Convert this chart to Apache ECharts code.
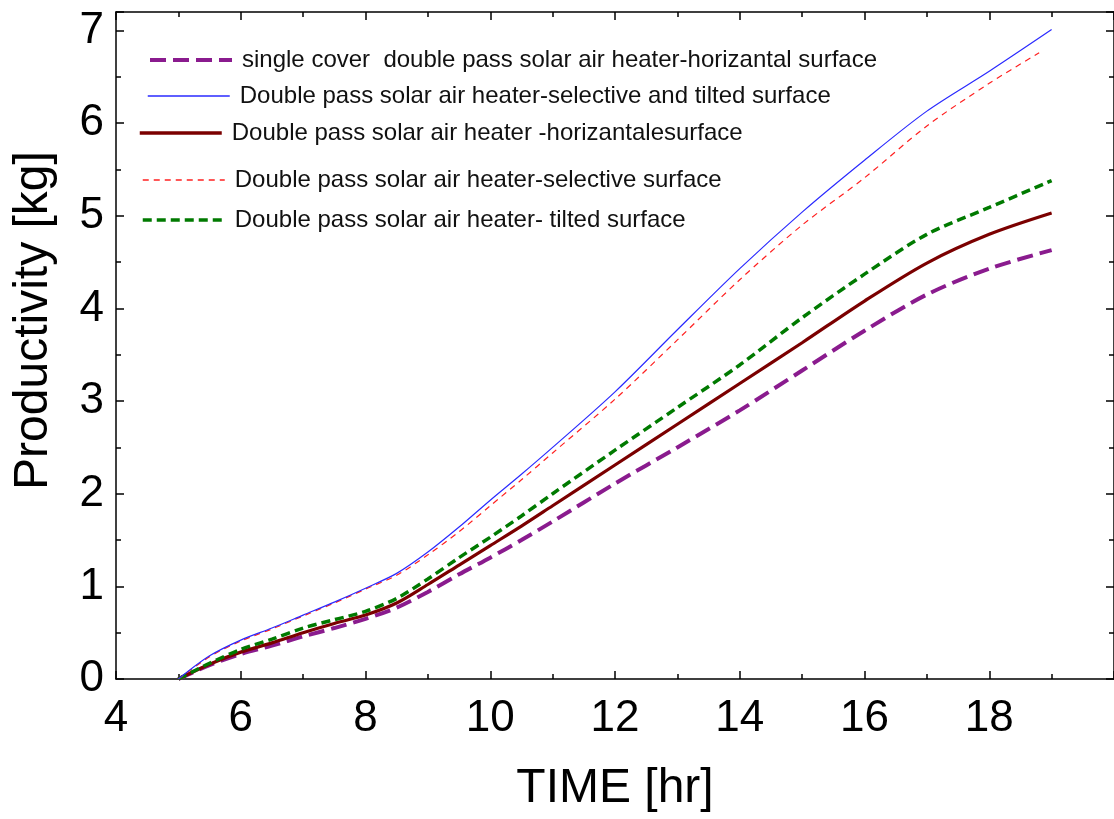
<!DOCTYPE html>
<html>
<head>
<meta charset="utf-8">
<script src="https://cdn.jsdelivr.net/npm/echarts@6/dist/echarts.min.js"></script>
<style>html,body{margin:0;padding:0;background:#fff}#c{width:1114px;height:819px}</style>
</head>
<body>
<div id="c"></div>
<script>
const times = [5, 5.5, 6, 6.5, 7, 7.5, 8, 8.5, 9, 9.5, 10, 10.5, 11, 12, 13, 14, 15, 16, 17, 18, 19];
const timesSelective = [5, 5.5, 6, 6.5, 7, 7.5, 8, 8.5, 9, 9.5, 10, 10.5, 11, 12, 13, 14, 15, 16, 17, 18, 18.8];
const singleCoverHoriz = [0, 0.15, 0.27, 0.36, 0.46, 0.55, 0.65, 0.77, 0.94, 1.13, 1.31, 1.5, 1.7, 2.11, 2.5, 2.9, 3.33, 3.76, 4.15, 4.43, 4.63];
const selectiveTilted = [0, 0.25, 0.42, 0.55, 0.69, 0.83, 0.98, 1.14, 1.37, 1.64, 1.93, 2.21, 2.5, 3.1, 3.77, 4.43, 5.04, 5.6, 6.13, 6.56, 7.01];
const horizontal = [0, 0.16, 0.29, 0.39, 0.5, 0.6, 0.69, 0.82, 1.02, 1.23, 1.44, 1.65, 1.87, 2.31, 2.75, 3.19, 3.63, 4.08, 4.49, 4.8, 5.03];
const selective = [0, 0.24, 0.41, 0.54, 0.68, 0.82, 0.97, 1.12, 1.34, 1.59, 1.87, 2.15, 2.44, 3.02, 3.66, 4.31, 4.9, 5.41, 5.97, 6.43, 6.76];
const tilted = [0, 0.17, 0.32, 0.43, 0.55, 0.64, 0.73, 0.87, 1.08, 1.31, 1.53, 1.76, 2.0, 2.47, 2.93, 3.39, 3.9, 4.37, 4.8, 5.09, 5.38];

const names = [
  'single cover  double pass solar air heater-horizantal surface',
  'Double pass solar air heater-selective and tilted surface',
  'Double pass solar air heater -horizantalesurface',
  'Double pass solar air heater-selective surface',
  'Double pass solar air heater- tilted surface'
];

function pairs(xs, ys) { return xs.map((x, i) => [x, ys[i]]); }

const FONT = '"Liberation Sans", Arial, sans-serif';
const chart = echarts.init(document.getElementById('c'), null, {renderer: 'canvas'});

function leg(name, left, top, lw) {
  return {
    data: [name], left: left, top: top, orient: 'horizontal',
    itemWidth: 82, itemHeight: 24, padding: 0,
    selectedMode: false,
    itemStyle: {opacity: 0},
    lineStyle: {width: lw},
    textStyle: {fontFamily: FONT, fontSize: 24, color: '#111', padding: [0, 0, 0, 5], lineHeight: 24}
  };
}

const axisLine = {show: true, onZero: false, lineStyle: {color: '#000', width: 1.5}};
const tick = {show: true, inside: true, length: 8, lineStyle: {color: '#000', width: 1.5}};
const minor = {show: true, splitNumber: 2, length: 5, lineStyle: {color: '#000', width: 1.5}};

chart.setOption({
  animation: false,
  backgroundColor: '#fff',
  grid: {left: 116, top: 12, right: -10, bottom: 140, containLabel: false},
  legend: [
    leg(names[0], 148, 48, 4),
    leg(names[1], 147, 84, 1.5),
    leg(names[2], 138, 121, 3.5),
    leg(names[3], 142, 168, 1.5),
    leg(names[4], 141, 208, 3.5)
  ],
  xAxis: [{
    type: 'value', min: 4, max: 20, interval: 2, position: 'bottom',
    name: 'TIME [hr]', nameLocation: 'middle', nameGap: 86,
    nameTextStyle: {fontFamily: FONT, fontSize: 48, color: '#000'},
    axisLine: axisLine, axisTick: tick, minorTick: minor,
    axisLabel: {fontFamily: FONT, fontSize: 44, color: '#000', margin: 18, showMaxLabel: false},
    splitLine: {show: false}
  }, {
    type: 'value', min: 4, max: 20, interval: 2, position: 'top',
    axisLine: axisLine, axisTick: tick, minorTick: minor,
    axisLabel: {show: false},
    splitLine: {show: false}
  }],
  yAxis: [{
    type: 'value', min: 0, max: 7.2, interval: 1, position: 'left',
    name: 'Productivity [kg]', nameLocation: 'middle', nameGap: 58,
    nameTextStyle: {fontFamily: FONT, fontSize: 48, color: '#000', padding: [0, 0, 0, 50]},
    axisLine: axisLine, axisTick: tick, minorTick: minor,
    axisLabel: {fontFamily: FONT, fontSize: 44, color: '#000', margin: 12,
      formatter: v => (Math.abs(v - Math.round(v)) < 1e-9 ? String(Math.round(v)) : '')},
    splitLine: {show: false}
  }, {
    type: 'value', min: 0, max: 7.2, interval: 1, position: 'right',
    axisLine: axisLine, axisTick: tick, minorTick: minor,
    axisLabel: {show: false},
    splitLine: {show: false}
  }],
  series: [
    {name: names[0], type: 'line', data: pairs(times, singleCoverHoriz), symbol: 'none', smooth: 0.3,
     lineStyle: {color: '#8a1b8e', width: 4, type: [16, 7]}, itemStyle: {color: '#8a1b8e'}, z: 2},
    {name: names[1], type: 'line', data: pairs(times, selectiveTilted), symbol: 'none', smooth: 0.3,
     lineStyle: {color: '#2a2aff', width: 1.2, type: 'solid'}, itemStyle: {color: '#2a2aff'}, z: 5},
    {name: names[2], type: 'line', data: pairs(times, horizontal), symbol: 'none', smooth: 0.3,
     lineStyle: {color: '#7b0000', width: 3.2, type: 'solid'}, itemStyle: {color: '#7b0000'}, z: 3},
    {name: names[3], type: 'line', data: pairs(timesSelective, selective), symbol: 'none', smooth: 0.3,
     lineStyle: {color: '#ff2020', width: 1.2, type: [6, 5]}, itemStyle: {color: '#ff2020'}, z: 4},
    {name: names[4], type: 'line', data: pairs(times, tilted), symbol: 'none', smooth: 0.3,
     lineStyle: {color: '#007a00', width: 3.5, type: [9, 5]}, itemStyle: {color: '#007a00'}, z: 3}
  ]
});
</script>
</body>
</html>
